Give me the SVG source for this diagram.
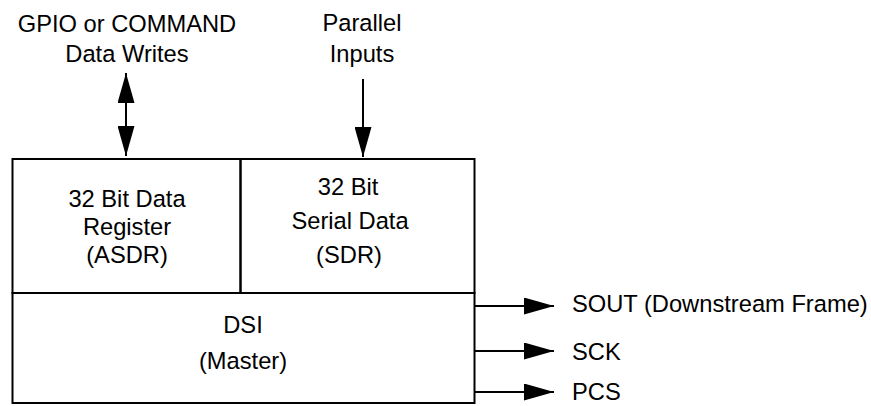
<svg xmlns="http://www.w3.org/2000/svg" width="871" height="406" viewBox="0 0 871 406">
  <style>
    text { font-family: "Liberation Sans", Arial, sans-serif; font-size: 23.7px; fill: #000; }
    .c { text-anchor: middle; }
    .box { fill: none; stroke: #000; stroke-width: 2; }
    .wire { fill: none; stroke: #000; stroke-width: 2; }
  </style>
  <defs>
    <marker id="ah" viewBox="0 0 30 17" refX="30" refY="8.5" markerWidth="30" markerHeight="17" markerUnits="userSpaceOnUse" orient="auto-start-reverse">
      <path d="M0,0 L30,8.5 L0,17 Z" fill="#000"/>
    </marker>
  </defs>
  <rect width="871" height="406" fill="#fff"/>

  <g id="asdr">
    <rect class="box" x="12.5" y="159" width="228" height="134"/>
    <text class="c" x="127" y="207">32 Bit Data</text>
    <text class="c" x="127" y="235">Register</text>
    <text class="c" x="127" y="263">(ASDR)</text>
  </g>
  <g id="sdr">
    <rect class="box" x="240.5" y="159" width="234" height="134"/>
    <text class="c" x="348" y="195">32 Bit</text>
    <text class="c" x="350" y="229">Serial Data</text>
    <text class="c" x="349" y="263">(SDR)</text>
  </g>
  <g id="dsi">
    <rect class="box" x="12.5" y="293" width="462" height="110"/>
    <text class="c" x="243" y="333">DSI</text>
    <text class="c" x="243" y="369">(Master)</text>
  </g>

  <g id="gpio-label">
    <text class="c" x="127" y="32">GPIO or COMMAND</text>
    <text class="c" x="127" y="62">Data Writes</text>
  </g>
  <g id="parallel-label">
    <text class="c" x="362" y="31">Parallel</text>
    <text class="c" x="362" y="62">Inputs</text>
  </g>
  <g id="out-labels">
    <text x="572" y="312">SOUT (Downstream Frame)</text>
    <text x="572" y="360">SCK</text>
    <text x="572" y="400">PCS</text>
  </g>

  <g id="connectors">
    <line class="wire" x1="126" y1="73" x2="126" y2="156" marker-start="url(#ah)" marker-end="url(#ah)"/>
    <line class="wire" x1="363" y1="79" x2="363" y2="157" marker-end="url(#ah)"/>
    <line class="wire" x1="474" y1="306" x2="554" y2="306" marker-end="url(#ah)"/>
    <line class="wire" x1="474" y1="351" x2="554" y2="351" marker-end="url(#ah)"/>
    <line class="wire" x1="474" y1="392" x2="554" y2="392" marker-end="url(#ah)"/>
  </g>
</svg>
